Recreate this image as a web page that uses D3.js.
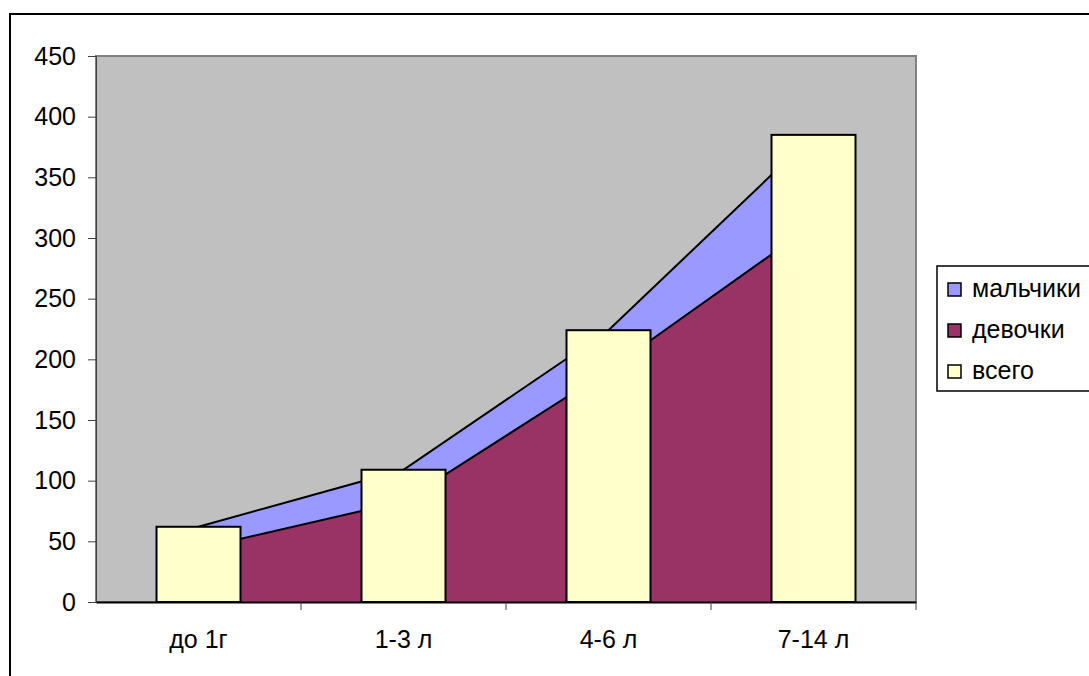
<!DOCTYPE html>
<html>
<head>
<meta charset="utf-8">
<script src="https://cdn.jsdelivr.net/npm/d3@7"></script>
<style>
  body { margin: 0; background: #fff; }
  svg { display: block; }
</style>
</head>
<body>
<div id="chart"></div>
<script>
const categories = ["до 1г", "1-3 л", "4-6 л", "7-14 л"];
const girls = [44, 83, 191, 311];
const boys = [18, 26, 33, 74];
const total = [62, 109, 224, 385];
const yTicks = [0, 50, 100, 150, 200, 250, 300, 350, 400, 450];
const legendNames = ["мальчики", "девочки", "всего"];

(function() {
  const width = 1089, height = 676;
  const plot = { left: 96, right: 916, top: 56, bottom: 602 };
  const font = "Arial, 'Liberation Sans', sans-serif";
  const fontSize = "25px";

  const svg = d3.select("#chart").append("svg")
    .attr("width", width).attr("height", height);

  // outer chart frame (runs off the right and bottom edge)
  svg.append("rect")
    .attr("x", 10).attr("y", 14)
    .attr("width", width + 20).attr("height", height + 20)
    .attr("fill", "#fff").attr("stroke", "#000").attr("stroke-width", 2);

  const x = d3.scaleBand().domain(categories).range([plot.left, plot.right]);
  const y = d3.scaleLinear().domain([0, 450]).range([plot.bottom, plot.top]);
  const cx = d => x(d) + x.bandwidth() / 2;

  // plot area
  svg.append("rect")
    .attr("x", plot.left).attr("y", plot.top)
    .attr("width", plot.right - plot.left).attr("height", plot.bottom - plot.top)
    .attr("fill", "#c0c0c0").attr("stroke", "#808080").attr("stroke-width", 2);

  // stacked areas
  const rows = categories.map((c, i) => ({ cat: c, girls: girls[i], boys: boys[i] }));
  const stack = d3.stack().keys(["girls", "boys"])(rows);
  const colors = { girls: "#993366", boys: "#9999ff" };
  const area = d3.area()
    .x(d => cx(d.data.cat))
    .y0(d => y(d[0]))
    .y1(d => y(d[1]));
  const line = d3.line().x(d => cx(d.data.cat)).y(d => y(d[1]));

  stack.slice().reverse().forEach(s => {
    svg.append("path").attr("d", area(s)).attr("fill", colors[s.key]);
  });
  stack.forEach(s => {
    svg.append("path").attr("d", line(s))
      .attr("fill", "none").attr("stroke", "#000").attr("stroke-width", 2);
  });

  // bars "всего"
  const barW = 84;
  svg.selectAll("rect.bar")
    .data(total)
    .join("rect")
    .attr("class", "bar")
    .attr("x", (d, i) => cx(categories[i]) - barW / 2)
    .attr("y", d => y(d))
    .attr("width", barW)
    .attr("height", d => plot.bottom - y(d))
    .attr("fill", "#ffffcc").attr("stroke", "#000").attr("stroke-width", 2);

  // y axis
  const yAxis = svg.append("g")
    .attr("transform", `translate(${plot.left},0)`)
    .call(d3.axisLeft(y).tickValues(yTicks).tickSize(8).tickPadding(12));
  yAxis.select(".domain").attr("stroke", "#404040");
  yAxis.selectAll(".tick line").attr("stroke", "#404040");
  yAxis.selectAll("text")
    .style("font-family", font).style("font-size", fontSize).attr("fill", "#000");

  // x axis
  const xAxis = svg.append("g")
    .attr("transform", `translate(0,${plot.bottom})`)
    .call(d3.axisBottom(x).tickSize(0).tickPadding(28));
  xAxis.select(".domain").attr("stroke", "#000").attr("stroke-width", 2);
  xAxis.selectAll("text")
    .style("font-family", font).style("font-size", fontSize).attr("fill", "#000");
  const edges = categories.map(c => x(c)).concat([plot.right]);
  svg.selectAll("line.xtick")
    .data(edges.slice(1))
    .join("line")
    .attr("class", "xtick")
    .attr("x1", d => d).attr("x2", d => d)
    .attr("y1", plot.bottom).attr("y2", plot.bottom + 8)
    .attr("stroke", "#404040");

  // legend
  const lg = svg.append("g");
  lg.append("rect")
    .attr("x", 937).attr("y", 266).attr("width", 170).attr("height", 125)
    .attr("fill", "#fff").attr("stroke", "#000").attr("stroke-width", 1.5);
  const legendColors = ["#9999ff", "#993366", "#ffffcc"];
  legendNames.forEach((n, i) => {
    const yy = 289.5 + i * 41;
    lg.append("rect")
      .attr("x", 948).attr("y", yy - 6.5).attr("width", 13).attr("height", 13)
      .attr("fill", legendColors[i]).attr("stroke", "#000").attr("stroke-width", 1.5);
    lg.append("text")
      .attr("x", 972).attr("y", yy + 7)
      .style("font-family", font).style("font-size", fontSize)
      .text(n);
  });
})();
</script>
</body>
</html>
